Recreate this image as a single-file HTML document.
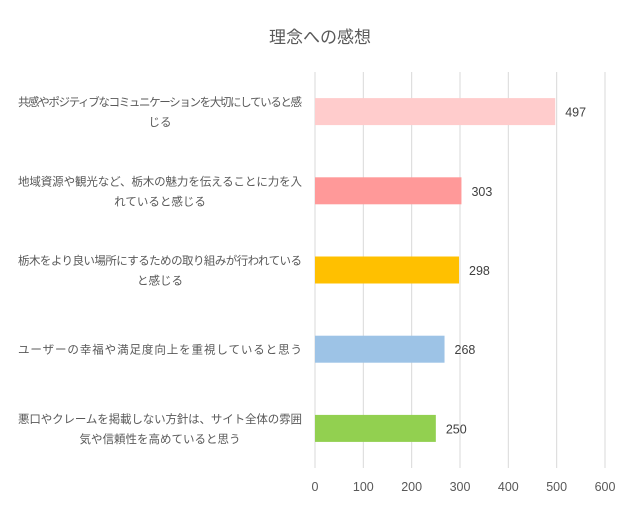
<!DOCTYPE html>
<html><head><meta charset="utf-8">
<style>
html,body{margin:0;padding:0;background:#fff;}
body{width:640px;height:510px;overflow:hidden;font-family:"Liberation Sans","Noto Sans CJK JP",sans-serif;}
</style></head>
<body>
<svg id="chart" width="640" height="510" xmlns="http://www.w3.org/2000/svg"></svg>
<script>
const categories = [
  ["共感やポジティブなコミュニケーションを大切にしていると感","じる"],
  ["地域資源や観光など、栃木の魅力を伝えることに力を入","れていると感じる"],
  ["栃木をより良い場所にするための取り組みが行われている","と感じる"],
  ["ユーザーの幸福や満足度向上を重視していると思う"],
  ["悪口やクレームを掲載しない方針は、サイト全体の雰囲","気や信頼性を高めていると思う"]
];
const values = [497, 303, 298, 268, 250];
const colors = ["#ffcccc", "#ff9999", "#ffc000", "#9dc3e6", "#92d050"];
const ticks = [0, 100, 200, 300, 400, 500, 600];

const svg = document.getElementById('chart');
const NS = 'http://www.w3.org/2000/svg';
const x0 = 315, x1 = 605, yTop = 72, yBot = 468;
const xScale = v => x0 + (v / 600) * (x1 - x0);
const band = (yBot - yTop) / categories.length;
const yCenter = i => yTop + band * (i + 0.5);
function mk(tag, attrs){ const e=document.createElementNS(NS,tag); for(const k in attrs) e.setAttribute(k,attrs[k]); svg.appendChild(e); return e; }

const title = mk('text',{x:320,y:43,'text-anchor':'middle','font-size':'17','fill':'#595959'});
title.textContent = '理念への感想';



ticks.forEach(t=>{
  const l = mk('line',{x1:xScale(t),x2:xScale(t),y1:yTop,y2:yBot,stroke:'#d9d9d9','stroke-width':1});
  
  
  const tx = mk('text',{x:xScale(t),y:491,'text-anchor':'middle','font-size':'12.5','fill':'#595959'});
  tx.textContent = t;
  
  
});

categories.forEach((lines,i)=>{
  const cy = yCenter(i);
  const r = mk('rect',{x:x0,y:cy-13.5,width:xScale(values[i])-x0,height:27,fill:colors[i]});
  
  
  const v = mk('text',{x:xScale(values[i])+10,y:cy+5,'font-size':'12.5','fill':'#404040'});
  v.textContent = values[i];
  
  
  const n = lines.length;
  lines.forEach((ln,j)=>{
    const t = mk('text',{x:160,y:cy+4.5+(j-(n-1)/2)*20,'text-anchor':'middle','font-size':'11.5','fill':'#595959',
      textLength: ln.length>20 ? 284 : null});
    if(ln.length<=20) t.removeAttribute('textLength');
    t.textContent = ln;
    
    
  });
});
</script>
</body></html>
